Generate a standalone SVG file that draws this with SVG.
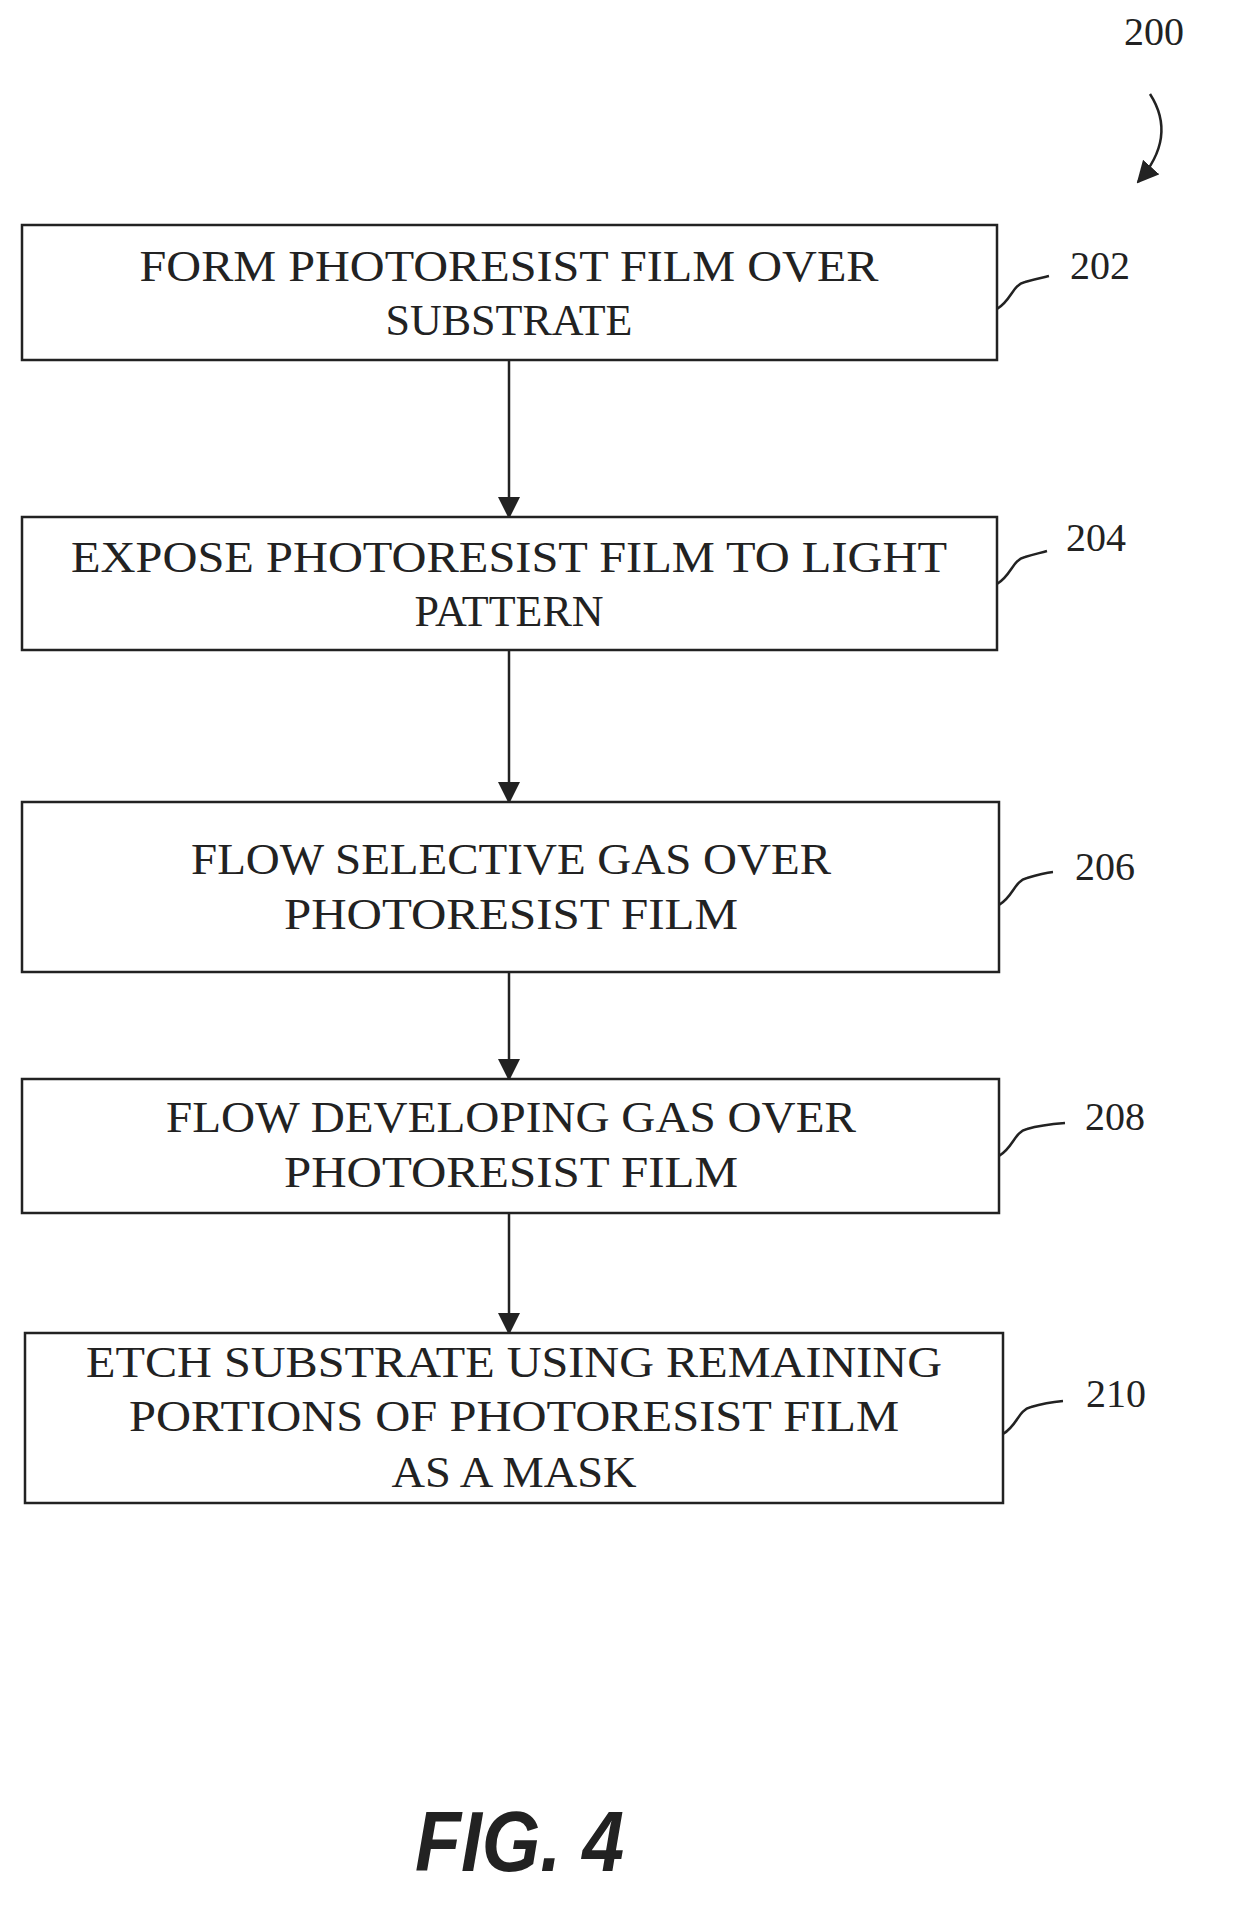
<svg xmlns="http://www.w3.org/2000/svg" width="1240" height="1925" viewBox="0 0 1240 1925">
<style>
.box{fill:#fff;stroke:#222;stroke-width:2.5}
.t{font-family:"Liberation Serif",serif;font-size:44px;fill:#222;text-anchor:middle}
.n{font-family:"Liberation Serif",serif;font-size:40px;fill:#222}
.c{fill:none;stroke:#222;stroke-width:2.5}
.f{font-family:"Liberation Sans",sans-serif;font-size:86px;font-weight:bold;font-style:italic;fill:#222}
</style>
<defs><marker id="ah" markerWidth="10" markerHeight="10" refX="9" refY="5" orient="auto" markerUnits="userSpaceOnUse" viewBox="0 0 10 10"><path d="M0,0 L10,5 L0,10 Z" fill="#222"/></marker>
<marker id="ah2" markerWidth="22" markerHeight="22" refX="20" refY="11" orient="auto" markerUnits="userSpaceOnUse" viewBox="0 0 22 22"><path d="M0,0 L22,11 L0,22 Z" fill="#222"/></marker></defs>
<g id="connectors">
<line class="c" x1="509" y1="360" x2="509" y2="517" marker-end="url(#ah2)"/>
<line class="c" x1="509" y1="650" x2="509" y2="802" marker-end="url(#ah2)"/>
<line class="c" x1="509" y1="972" x2="509" y2="1079" marker-end="url(#ah2)"/>
<line class="c" x1="509" y1="1213" x2="509" y2="1333" marker-end="url(#ah2)"/>
<path class="c" d="M1150,94 C1170,125 1162,155 1138,182" marker-end="url(#ah2)"/>
<path class="c" d="M997,309 C1012,300 1012,285 1025,282 C1035,279 1040,278 1049,276"/>
<path class="c" d="M997,584 C1012,575 1012,560 1025,557 C1035,554 1040,553 1047,551"/>
<path class="c" d="M999,905 C1014,896 1014,881 1027,878 C1037,875 1044,873 1053,872"/>
<path class="c" d="M999,1156 C1014,1147 1014,1132 1027,1129 C1037,1126 1052,1124 1065,1123"/>
<path class="c" d="M1003,1434 C1018,1425 1018,1410 1031,1407 C1041,1404 1052,1402 1063,1401"/>
</g>
<g id="n200"><text class="n" x="1124" y="45">200</text></g>
<g id="n202"><rect class="box" x="22" y="225" width="975" height="135"/><text class="t" x="509" y="281" textLength="739" lengthAdjust="spacingAndGlyphs">FORM PHOTORESIST FILM OVER</text><text class="t" x="509" y="335">SUBSTRATE</text><text class="n" x="1070" y="279">202</text></g>
<g id="n204"><rect class="box" x="22" y="517" width="975" height="133"/><text class="t" x="509" y="572" textLength="876" lengthAdjust="spacingAndGlyphs">EXPOSE PHOTORESIST FILM TO LIGHT</text><text class="t" x="509" y="626">PATTERN</text><text class="n" x="1066" y="551">204</text></g>
<g id="n206"><rect class="box" x="22" y="802" width="977" height="170"/><text class="t" x="511" y="874" textLength="640" lengthAdjust="spacingAndGlyphs">FLOW SELECTIVE GAS OVER</text><text class="t" x="511" y="929" textLength="454" lengthAdjust="spacingAndGlyphs">PHOTORESIST FILM</text><text class="n" x="1075" y="880">206</text></g>
<g id="n208"><rect class="box" x="22" y="1079" width="977" height="134"/><text class="t" x="511" y="1132" textLength="690" lengthAdjust="spacingAndGlyphs">FLOW DEVELOPING GAS OVER</text><text class="t" x="511" y="1187" textLength="454" lengthAdjust="spacingAndGlyphs">PHOTORESIST FILM</text><text class="n" x="1085" y="1130">208</text></g>
<g id="n210"><rect class="box" x="25" y="1333" width="978" height="170"/><text class="t" x="514" y="1377" textLength="856" lengthAdjust="spacingAndGlyphs">ETCH SUBSTRATE USING REMAINING</text><text class="t" x="514" y="1431" textLength="770" lengthAdjust="spacingAndGlyphs">PORTIONS OF PHOTORESIST FILM</text><text class="t" x="514" y="1487" textLength="245" lengthAdjust="spacingAndGlyphs">AS A MASK</text><text class="n" x="1086" y="1407">210</text></g>
<g id="fig"><text class="f" x="415" y="1871" textLength="209" lengthAdjust="spacingAndGlyphs">FIG. 4</text></g>
</svg>
